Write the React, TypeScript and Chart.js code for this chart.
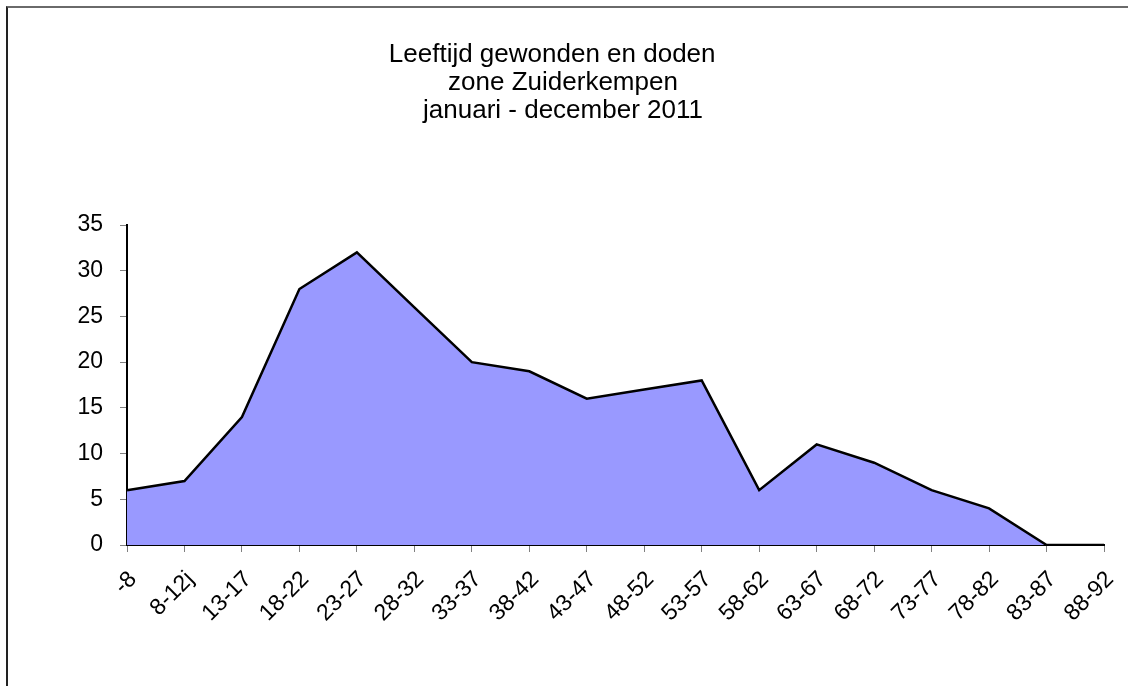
import React, { useEffect, useRef } from "react";
import { Chart, registerables } from "chart.js";

Chart.register(...registerables);

const titleLines = ["Leeftijd gewonden en doden   ", "zone Zuiderkempen", "januari - december 2011"];
const categories = ["-8", "8-12j", "13-17", "18-22", "23-27", "28-32", "33-37", "38-42", "43-47", "48-52", "53-57", "58-62", "63-67", "68-72", "73-77", "78-82", "83-87", "88-92"];
const counts = [6, 7, 14, 28, 32, 26, 20, 19, 16, 17, 18, 6, 11, 9, 6, 4, 0, 0];
const yMin = 0;
const yMax = 35;
const yStep = 5;

const FONT = "'Liberation Sans', Arial, sans-serif";

const titlePlugin = {
  id: "multiLineTitle",
  afterDraw(chart: any) {
    const ctx = chart.ctx;
    ctx.save();
    ctx.font = `26px ${FONT}`;
    ctx.fillStyle = "#000";
    ctx.textAlign = "center";
    ctx.textBaseline = "alphabetic";
    titleLines.forEach((line, i) => {
      ctx.fillText(line, 563, 61.5 + i * 28);
    });
    ctx.restore();
  },
};

export default function App() {
  const ref = useRef<HTMLCanvasElement | null>(null);

  useEffect(() => {
    if (!ref.current) return;
    const chart = new Chart(ref.current, {
      type: "line",
      data: {
        labels: categories,
        datasets: [
          {
            data: counts,
            fill: "origin",
            backgroundColor: "#9999FF",
            borderColor: "#000000",
            borderWidth: 2.5,
            pointRadius: 0,
            tension: 0,
            borderJoinStyle: "miter",
          },
        ],
      },
      plugins: [titlePlugin],
      options: {
        animation: false,
        responsive: false,
        devicePixelRatio: 1,
        layout: { padding: { left: 0, right: 24, top: 225, bottom: 0 } },
        plugins: {
          legend: { display: false },
          tooltip: { enabled: false },
          title: { display: false },
        },
        scales: {
          x: {
            type: "category",
            offset: false,
            grid: { drawOnChartArea: false, tickLength: 7, color: "#808080", lineWidth: 1 },
            border: { color: "#000", width: 2 },
            ticks: {
              color: "#000",
              font: { family: FONT, size: 23 },
              minRotation: 45,
              maxRotation: 45,
              autoSkip: false,
              padding: 14,
              labelOffset: 6,
            },
            afterFit: (scale: any) => {
              scale.height = 141;
              scale.paddingLeft = 0;
              scale.paddingRight = 0;
            },
          },
          y: {
            min: yMin,
            max: yMax,
            grid: { drawOnChartArea: false, tickLength: 7, color: "#808080", lineWidth: 1 },
            border: { color: "#000", width: 2 },
            ticks: {
              stepSize: yStep,
              color: "#000",
              font: { family: FONT, size: 23 },
              padding: 17,
            },
            afterFit: (scale: any) => {
              scale.width = 127;
              scale.paddingTop = 0;
              scale.paddingBottom = 0;
            },
          },
        },
      },
    });
    return () => chart.destroy();
  }, []);

  return (
    <div style={{ position: "fixed", left: 0, top: 0, width: 1128, height: 686, background: "#fff", overflow: "hidden" }}>
      <canvas ref={ref} width={1128} height={686} style={{ position: "absolute", left: 0, top: 0, width: 1128, height: 686 }} />
      <div
        style={{
          position: "absolute",
          left: 6,
          top: 6,
          width: 2000,
          height: 2000,
          borderTop: "2px solid #6a6a6a",
          borderLeft: "2px solid #222",
          pointerEvents: "none",
        }}
      />
    </div>
  );
}
